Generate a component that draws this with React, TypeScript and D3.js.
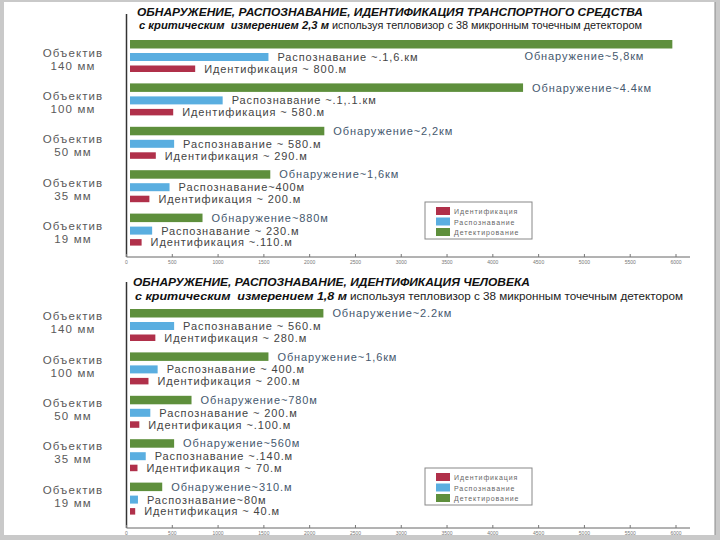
import React from "react";
import * as d3 from "d3";

// ---------- data ----------
const lensCategories = ["140 мм", "100 мм", "50 мм", "35 мм", "19 мм"];
const lensPrefix = "Объектив";
const legendNames = ["Идентификация", "Распознавание", "Детектирование"];
const xTickValues = [0, 500, 1000, 1500, 2000, 2500, 3000, 3500, 4000, 4500, 5000, 5500, 6000];

// vehicle (m)
const vehicleDetection = [5960, 4330, 2160, 1570, 830];
const vehicleRecognition = [1550, 1050, 520, 470, 280];
const vehicleIdentification = [750, 510, 320, 250, 165];
const vehicleDetectionLabels = ["Обнаружение~5,8км", "Обнаружение~4.4км", "Обнаружение~2,2км", "Обнаружение~1,6км", "Обнаружение~880м"];
const vehicleRecognitionLabels = ["Распознавание ~.1,6.км", "Распознавание ~.1,.1.км", "Распознавание ~ 580.м", "Распознавание~400м", "Распознавание ~ 230.м"];
const vehicleIdentificationLabels = ["Идентификация ~ 800.м", "Идентификация ~ 580.м", "Идентификация ~ 290.м", "Идентификация ~ 200.м", "Идентификация ~.110.м"];

// person (m)
const personDetection = [2150, 1550, 710, 520, 390];
const personRecognition = [520, 340, 260, 210, 125];
const personIdentification = [315, 240, 140, 120, 95];
const personDetectionLabels = ["Обнаружение~2.2км", "Обнаружение~1,6км", "Обнаружение~780м", "Обнаружение~560м", "Обнаружение~310.м"];
const personRecognitionLabels = ["Распознавание ~ 560.м", "Распознавание ~ 400.м", "Распознавание ~ 200.м", "Распознавание ~.140.м", "Распознавание~80м"];
const personIdentificationLabels = ["Идентификация ~ 280.м", "Идентификация ~ 200.м", "Идентификация ~.100.м", "Идентификация ~ 70.м", "Идентификация ~ 40.м"];

// ---------- styles ----------
const FONT = "'Liberation Sans', Arial, sans-serif";
const C_DET = "#5e8f3c";
const C_REC = "#5aaee0";
const C_ID = "#b0304a";
const legendColors = [C_ID, C_REC, C_DET];

const x = d3.scaleLinear().domain([0, 6000]).range([126.5, 676]);
const BAR_INSET = 3.5;

type PanelCfg = {
  title: string; titleX: number; titleY: number; titleLen: number;
  subBold: string; subBoldX: number; subBoldLen: number;
  subNorm: string; subNormX: number; subNormLen: number; subY: number; subFont: number;
  axisTop: number; axisY: number; bandStart: number; labelOffset: number; legendY: number;
  det: number[]; rec: number[]; idn: number[];
  detL: string[]; recL: string[]; idL: string[];
};

function Panel({ c }: { c: PanelCfg }) {
  const y = d3.scaleBand<string>().domain(lensCategories).range([c.bandStart, c.bandStart + 43.4 * lensCategories.length]).padding(0);
  const rows = [
    { vals: c.det, labels: c.detL, color: C_DET, off: 0, h: 8.5, lc: "#45586e" },
    { vals: c.rec, labels: c.recL, color: C_REC, off: 13, h: 8, lc: "#444" },
    { vals: c.idn, labels: c.idL, color: C_ID, off: 25.5, h: 6.5, lc: "#444" },
  ];
  const x0 = x(0);
  return (
    <g>
      <text x={c.titleX} y={c.titleY} fontFamily={FONT} fontSize={11.5} fontWeight="bold" fontStyle="italic" fill="#111" textLength={c.titleLen} lengthAdjust="spacingAndGlyphs">{c.title}</text>
      <text x={c.subBoldX} y={c.subY} fontFamily={FONT} fontSize={c.subFont} fontWeight="bold" fontStyle="italic" fill="#111" style={{ whiteSpace: "pre" }} textLength={c.subBoldLen} lengthAdjust="spacingAndGlyphs">{c.subBold}</text>
      <text x={c.subNormX} y={c.subY} fontFamily={FONT} fontSize={c.subFont} fill="#222" textLength={c.subNormLen} lengthAdjust="spacingAndGlyphs">{c.subNorm}</text>

      {/* y axis */}
      <line x1={x0} x2={x0} y1={c.axisTop} y2={c.axisY} stroke="#333" strokeWidth={1.5} />
      {/* x axis */}
      <line x1={x0} x2={690} y1={c.axisY} y2={c.axisY} stroke="#666" strokeWidth={1} />
      {xTickValues.map((t) => (
        <g key={t}>
          <line x1={x(t)} x2={x(t)} y1={c.axisY - 3} y2={c.axisY} stroke="#777" strokeWidth={1} />
          <text x={x(t)} y={c.axisY + 7} fontFamily={FONT} fontSize={5} fill="#777" textAnchor="middle">{t}</text>
        </g>
      ))}

      {lensCategories.map((cat, i) => {
        const gy = y(cat)!;
        return (
          <g key={cat}>
            <text x={73} y={gy + c.labelOffset + 4} fontFamily={FONT} fontSize={11.5} letterSpacing={1.1} fill="#5a5a5a" textAnchor="middle">{lensPrefix}</text>
            <text x={73} y={gy + c.labelOffset + 17} fontFamily={FONT} fontSize={11.5} letterSpacing={1.1} fill="#5a5a5a" textAnchor="middle">{cat}</text>
            {rows.map((r, k) => {
              const xe = x(r.vals[i]);
              const cy = gy + r.off + r.h / 2;
              const far = xe > 600;
              return (
                <g key={k}>
                  <rect x={x0 + BAR_INSET} y={gy + r.off} width={Math.max(0, xe - x0 - BAR_INSET)} height={r.h} fill={r.color} />
                  {far ? (
                    <text x={xe - 28} y={gy + 13 + 3 + 3.5} fontFamily={FONT} fontSize={11} letterSpacing={0.9} fill={r.lc} textAnchor="end">{r.labels[i]}</text>
                  ) : (
                    <text x={xe + 9} y={cy + 4} fontFamily={FONT} fontSize={11} letterSpacing={0.9} fill={r.lc}>{r.labels[i]}</text>
                  )}
                </g>
              );
            })}
          </g>
        );
      })}

      {/* legend */}
      <g transform={`translate(425,${c.legendY})`}>
        <rect x={0} y={0} width={107} height={37} fill="#fff" stroke="#888" strokeWidth={1} />
        {legendNames.map((n, k) => (
          <g key={n} transform={`translate(11,${5 + k * 10.5})`}>
            <rect x={0} y={0} width={14} height={8} fill={legendColors[k]} />
            <text x={18} y={7} fontFamily={FONT} fontSize={7} letterSpacing={0.9} fill="#666">{n}</text>
          </g>
        ))}
      </g>
    </g>
  );
}

const topCfg: PanelCfg = {
  title: "ОБНАРУЖЕНИЕ, РАСПОЗНАВАНИЕ, ИДЕНТИФИКАЦИЯ ТРАНСПОРТНОГО СРЕДСТВА",
  titleX: 137, titleY: 16, titleLen: 506,
  subBold: "с критическим  измерением 2,3 м", subBoldX: 139, subBoldLen: 190,
  subNorm: "используя тепловизор с 38 микронным точечным детектором", subNormX: 332, subNormLen: 310,
  subY: 29, subFont: 10.5,
  axisTop: 14, axisY: 257, bandStart: 40, labelOffset: 12.6, legendY: 202,
  det: vehicleDetection, rec: vehicleRecognition, idn: vehicleIdentification,
  detL: vehicleDetectionLabels, recL: vehicleRecognitionLabels, idL: vehicleIdentificationLabels,
};

const bottomCfg: PanelCfg = {
  title: "ОБНАРУЖЕНИЕ, РАСПОЗНАВАНИЕ, ИДЕНТИФИКАЦИЯ ЧЕЛОВЕКА",
  titleX: 133, titleY: 286, titleLen: 397,
  subBold: "с критическим  измерением 1,8 м", subBoldX: 135, subBoldLen: 212,
  subNorm: "используя тепловизор с 38 микронным точечным детектором", subNormX: 350, subNormLen: 333,
  subY: 299.5, subFont: 11.5,
  axisTop: 282, axisY: 528, bandStart: 309, labelOffset: 7.2, legendY: 468,
  det: personDetection, rec: personRecognition, idn: personIdentification,
  detL: personDetectionLabels, recL: personRecognitionLabels, idL: personIdentificationLabels,
};

export default function App() {
  return (
    <svg width={720} height={540} style={{ position: "absolute", left: 0, top: 0 }}>
      <rect x={0} y={0} width={720} height={540} fill="#c9c9c9" />
      <rect x={4} y={2} width={711} height={533} fill="#ffffff" />
      <line x1={715} x2={715} y1={2} y2={535} stroke="#8a8a8a" strokeWidth={1} />
      <Panel c={topCfg} />
      <Panel c={bottomCfg} />
    </svg>
  );
}
